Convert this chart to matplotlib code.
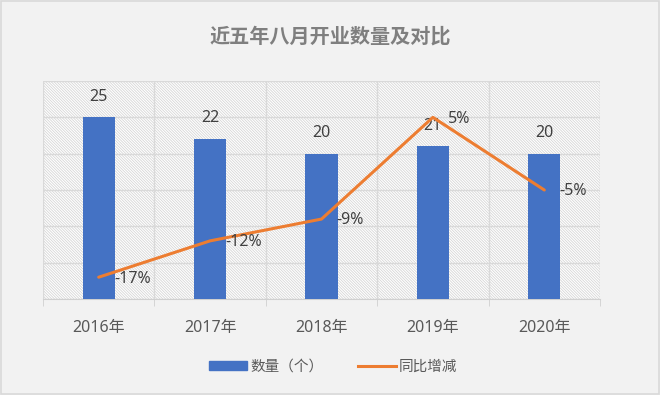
import matplotlib
matplotlib.use("Agg")
import matplotlib.pyplot as plt
from matplotlib.patches import Rectangle
from matplotlib.lines import Line2D
from matplotlib.ticker import MultipleLocator

plt.rcParams['font.family'] = ['Noto Sans', 'Noto Sans CJK SC', 'DejaVu Sans']
plt.rcParams['hatch.color'] = '#d6d6d6'
plt.rcParams['hatch.linewidth'] = 0.6

categories = ['2016年', '2017年', '2018年', '2019年', '2020年']
counts = [25, 22, 20, 21, 20]
yoy = [-17, -12, -9, 5, -5]
yoy_labels = ['-17%', '-12%', '-9%', '5%', '-5%']
title = '近五年八月开业数量及对比'
legend_labels = ['数量（个）', '同比增减']

BAR = '#4472C4'
LINE = '#ED7D31'

fig = plt.figure(figsize=(6.6, 3.95), dpi=100)
fig.patch.set_facecolor('#f2f2f2')
fig.patches.append(Rectangle((0.002, 0.003), 0.996, 0.994, transform=fig.transFigure,
                             fill=False, edgecolor='#d9d9d9', linewidth=1.2))

ax = fig.add_axes([43/660, 1 - 299/395, (600-43)/660, (299-81)/395])
ax.set_facecolor('white')
ax.add_patch(Rectangle((0, 0), 1, 1, transform=ax.transAxes, facecolor='white',
                       hatch='\\' * 12, edgecolor='#d6d6d6', linewidth=0, zorder=0))

x = list(range(len(categories)))
ax.bar(x, counts, width=0.29, color=BAR, zorder=3)
ax.set_xlim(-0.5, len(categories) - 0.5)
ax.set_ylim(0, 30)
ax.yaxis.set_major_locator(MultipleLocator(5))
ax.grid(axis='y', color='#d9d9d9', linewidth=1, zorder=1)
ax.set_axisbelow(True)
for b in [i + 0.5 for i in range(-1, len(categories))]:
    ax.axvline(b, color='#d9d9d9', linewidth=1, zorder=1)
for s in ['top', 'right', 'left']:
    ax.spines[s].set_visible(False)
ax.spines['bottom'].set_color('#d0d0d0')
ax.set_xticks(x)
ax.set_xticklabels(categories, fontsize=11.5, color='#595959')
ax.tick_params(axis='x', length=0, pad=15)
ax.set_xticks([i + 0.5 for i in range(-1, len(categories))], minor=True)
ax.tick_params(axis='x', which='minor', length=5, color='#d0d0d0')

for xi, v in zip(x, counts):
    ax.annotate(str(v), (xi, v), xytext=(0, 15), textcoords='offset points',
                ha='center', va='center', fontsize=11.5, color='#404040', zorder=5)

ax2 = ax.twinx()
ax2.plot(x, yoy, color=LINE, linewidth=2.2, zorder=4, solid_capstyle='round')
ax2.set_ylim(-20, 10)
ax2.axis('off')
ax.tick_params(axis='y', which='both', left=False, right=False,
               labelleft=False, labelright=False)
for xi, v, lab in zip(x, yoy, yoy_labels):
    ax2.annotate(lab, (xi, v), xytext=(11, -1), textcoords='offset points',
                 ha='left', va='center', fontsize=11.5, color='#404040', zorder=5)

fig.text(0.5, 1 - 38/395, title, ha='center', va='center', fontsize=14.5,
         fontweight='bold', color='#7f7f7f')

handles = [Rectangle((0, 0), 1, 1, color=BAR), Line2D([0], [0], color=LINE, linewidth=2.2)]
fig.legend(handles, legend_labels, loc='center', bbox_to_anchor=(0.505, 1 - 367/395),
           ncol=2, frameon=False, fontsize=10.5, labelcolor='#595959',
           handlelength=2.6, handletextpad=0.2, columnspacing=2.4, handleheight=0.6)

fig.savefig('out.png', dpi=100, facecolor=fig.get_facecolor())
